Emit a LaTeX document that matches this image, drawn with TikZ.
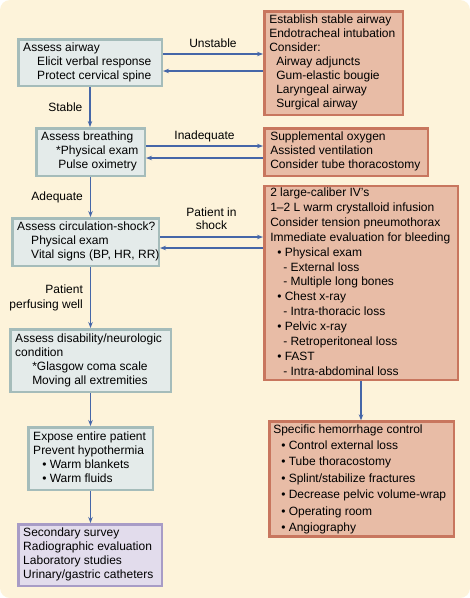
\documentclass[tikz,border=0pt]{standalone}
\usepackage{fontspec}
\setmainfont{Liberation Sans}
\usetikzlibrary{arrows.meta,calc}
\definecolor{bgc}{HTML}{FDF3DA}
\definecolor{lfill}{HTML}{E4EBEA}
\definecolor{ldraw}{HTML}{A5BCBA}
\definecolor{rfill}{HTML}{E8BCA6}
\definecolor{rdraw}{HTML}{C8765E}
\definecolor{pfill}{HTML}{E2DCEC}
\definecolor{pdraw}{HTML}{A89CC6}
\definecolor{arrc}{HTML}{4566A8}
\newcommand\bt[3]{\makebox[#1][l]{\hspace*{#2}\begin{tabular}{@{}l@{}}#3\end{tabular}}}
\newcommand\ind[1]{\hspace*{#1}}
\begin{document}
\begin{tikzpicture}[x=1pt,y=-1pt,
  basebox/.style={inner sep=0pt, line width=2.5pt, font=\fontsize{12}{14}\selectfont},
  lbox/.style={basebox, draw=ldraw, fill=lfill},
  rbox/.style={basebox, draw=rdraw, fill=rfill},
  pbox/.style={basebox, draw=pdraw, fill=pfill},
  arr/.style={draw=arrc, line width=1.3pt, -{Stealth[length=6pt,width=4.5pt]}},
  lab/.style={font=\fontsize{12}{14}\selectfont, inner sep=0pt}]
\useasboundingbox (0,0) rectangle (470,598);
\fill[white] (0,0) rectangle (470,598);
\fill[bgc, rounded corners=10pt] (0,0) rectangle (470,598);

% left column
\node[lbox, minimum height=46.5pt] (A) at (90,62.5)
  {\bt{143.5pt}{5pt}{Assess airway\\ \ind{14pt}Elicit verbal response\\ \ind{14pt}Protect cervical spine}};
\node[lbox, minimum height=47.5pt] (B) at (90.5,152)
  {\bt{108.5pt}{5pt}{Assess breathing\\ \ind{15pt}*Physical exam\\ \ind{17pt}Pulse oximetry}};
\node[lbox, minimum height=47.5pt] (C) at (85.5,242)
  {\bt{146.5pt}{5pt}{Assess circulation-shock?\\ \ind{14pt}Physical exam\\ \ind{14pt}Vital signs (BP, HR, RR)}};
\node[lbox, minimum height=62.5pt] (D) at (90.5,360.5)
  {\bt{160.5pt}{5pt}{Assess disability/neurologic\\ condition\\ \ind{17pt}*Glasgow coma scale\\ \ind{17pt}Moving all extremities}};
\node[lbox, minimum height=62.5pt] (E) at (90.5,458.5)
  {\bt{124.5pt}{5pt}{Expose entire patient\\ Prevent hypothermia\\ \ind{9pt}• Warm blankets\\ \ind{9pt}• Warm fluids}};
\node[pbox, minimum height=61.5pt] (F) at (90,555)
  {\bt{143.5pt}{5pt}{Secondary survey\\ Radiographic evaluation\\ Laboratory studies\\ Urinary/gastric catheters}};

% right column
\node[rbox, minimum height=103.5pt] (R1) at (333.5,63)
  {\bt{138.5pt}{5pt}{Establish stable airway\\ Endotracheal intubation\\ Consider:\\ \ind{7pt}Airway adjuncts\\ \ind{7pt}Gum-elastic bougie\\ \ind{7pt}Laryngeal airway\\ \ind{7pt}Surgical airway}};
\node[rbox, minimum height=47.5pt] (R2) at (346,152)
  {\bt{163.5pt}{6pt}{Supplemental oxygen\\ Assisted ventilation\\ Consider tube thoracostomy}};
\node[rbox, minimum height=185.5pt, font=\fontsize{12}{14.9}\selectfont] (R3) at (361,283)
  {\bt{193.5pt}{6pt}{2 large-caliber IV’s\\ 1–2 L warm crystalloid infusion\\ Consider tension pneumothorax\\ Immediate evaluation for bleeding\\
   \ind{7pt}• Physical exam\\ \ind{13pt}- External loss\\ \ind{13pt}- Multiple long bones\\
   \ind{7pt}• Chest x-ray\\ \ind{13pt}- Intra-thoracic loss\\
   \ind{7pt}• Pelvic x-ray\\ \ind{13pt}- Retroperitoneal loss\\
   \ind{7pt}• FAST\\ \ind{13pt}- Intra-abdominal loss}};
\node[rbox, minimum height=103.5pt, font=\fontsize{12}{16.4}\selectfont] (R4) at (361.5,479)
  {\bt{184.5pt}{4pt}{Specific hemorrhage control\\ \ind{8pt}• Control external loss\\ \ind{8pt}• Tube thoracostomy\\ \ind{8pt}• Splint/stabilize fractures\\ \ind{8pt}• Decrease pelvic volume-wrap\\ \ind{8pt}• Operating room\\ \ind{8pt}• Angiography}};

% horizontal connectors
\coordinate (u1) at ($(A.east)+(0,-8.5)$);
\coordinate (u2) at ($(A.east)+(0,8.5)$);
\draw[arr] (u1) -- node[lab, anchor=base, yshift=6.7pt] {Unstable} (u1 -| R1.west);
\draw[arr] (u2 -| R1.west) -- (u2);
\coordinate (i1) at ($(B.east)+(0,-6)$);
\coordinate (i2) at ($(B.east)+(0,6)$);
\draw[arr] (i1) -- node[lab, anchor=base, yshift=6.7pt] {Inadequate} (i1 -| R2.west);
\draw[arr] (i2 -| R2.west) -- (i2);
\coordinate (s1) at ($(C.east)+(0,-5)$);
\coordinate (s2) at ($(C.east)+(0,6)$);
\draw[arr] (s1) -- node[lab, anchor=south, align=center, yshift=7pt, font=\fontsize{12}{13}\selectfont] {Patient in\\shock} (s1 -| R3.west);
\draw[arr] (s2 -| R3.west) -- (s2);

% vertical connectors
\draw[arr] (A.south) -- node[lab, left=7pt] {Stable} (A.south |- B.north);
\draw[arr] (B.south) -- node[lab, left=7pt] {Adequate} (B.south |- C.north);
\draw[arr] (B.south |- C.south) -- node[lab, left=7pt, align=right, font=\fontsize{12}{15}\selectfont] {Patient\\perfusing well} (B.south |- D.north);
\draw[arr] (D.south) -- (D.south |- E.north);
\draw[arr] (E.south) -- (E.south |- F.north);
\draw[arr] (R3.south) -- (R3.south |- R4.north);
\end{tikzpicture}
\end{document}
